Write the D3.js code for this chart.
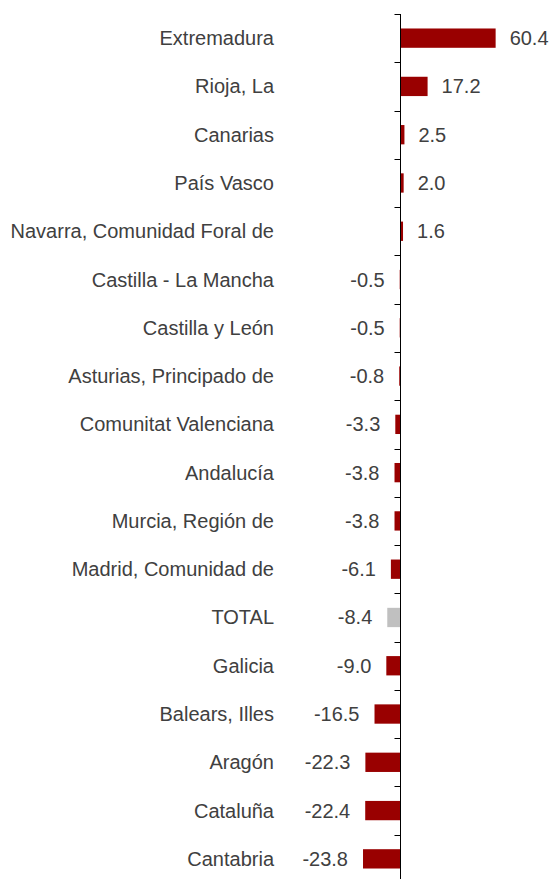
<!DOCTYPE html>
<html>
<head>
<meta charset="utf-8">
<script src="https://cdn.jsdelivr.net/npm/d3@7"></script>
<style>
  html, body { margin: 0; padding: 0; background: #fff; }
  svg { display: block; }
  text { font-family: "Liberation Sans", Arial, sans-serif; fill: #404040; }
</style>
</head>
<body>
<div id="chart"></div>
<script>
// Variación por comunidad autónoma (%)
const regions = [
  "Extremadura", "Rioja, La", "Canarias", "País Vasco",
  "Navarra, Comunidad Foral de", "Castilla - La Mancha", "Castilla y León",
  "Asturias, Principado de", "Comunitat Valenciana", "Andalucía",
  "Murcia, Región de", "Madrid, Comunidad de", "TOTAL", "Galicia",
  "Balears, Illes", "Aragón", "Cataluña", "Cantabria"
];
const values = [
  60.4, 17.2, 2.5, 2.0, 1.6, -0.5, -0.5, -0.8, -3.3, -3.8,
  -3.8, -6.1, -8.4, -9.0, -16.5, -22.3, -22.4, -23.8
];
const highlight = ["TOTAL"];

const width = 551, height = 879;
const zeroX = 400.5;
const pxPerUnit = 1.575;

const svg = d3.select("#chart").append("svg")
  .attr("width", width).attr("height", height);

const x = d3.scaleLinear()
  .domain([-25, 65])
  .range([zeroX - 25 * pxPerUnit, zeroX + 65 * pxPerUnit]);

const y = d3.scaleBand()
  .domain(regions)
  .range([14, 883])
  .paddingInner(0.6)
  .paddingOuter(0.3);

const data = regions.map((r, i) => ({ region: r, value: values[i] }));

// bars
svg.append("g").selectAll("rect")
  .data(data)
  .join("rect")
  .attr("x", d => x(Math.min(0, d.value)))
  .attr("y", d => y(d.region))
  .attr("width", d => Math.abs(x(d.value) - x(0)))
  .attr("height", y.bandwidth())
  .attr("fill", d => highlight.includes(d.region) ? "#c0c0c0" : "#990000");

// category axis through zero
const axisG = svg.append("g").attr("transform", `translate(${x(0)},0)`);
axisG.append("line")
  .attr("y1", 14).attr("y2", 883)
  .attr("stroke", "#000").attr("stroke-width", 1);
const tickYs = d3.range(regions.length + 1).map(i => 14 + i * (869 / regions.length));
axisG.selectAll("line.tick")
  .data(tickYs)
  .join("line")
  .attr("class", "tick")
  .attr("x1", -6).attr("x2", 0)
  .attr("y1", d => Math.round(d) + 0.5).attr("y2", d => Math.round(d) + 0.5)
  .attr("stroke", "#000").attr("stroke-width", 1);

// category labels
svg.append("g").selectAll("text")
  .data(data)
  .join("text")
  .attr("x", 274)
  .attr("y", d => y(d.region) + y.bandwidth() / 2)
  .attr("dy", "0.35em")
  .attr("text-anchor", "end")
  .attr("font-size", 20)
  .text(d => d.region);

// value labels (plain hyphen for negatives)
const fmt = d3.formatLocale({ decimal: ".", thousands: ",", grouping: [3], currency: ["", ""], minus: "-" }).format(".1f");
svg.append("g").selectAll("text")
  .data(data)
  .join("text")
  .attr("x", d => d.value >= 0 ? x(d.value) + 14 : x(d.value) - 15)
  .attr("y", d => y(d.region) + y.bandwidth() / 2)
  .attr("dy", "0.35em")
  .attr("text-anchor", d => d.value >= 0 ? "start" : "end")
  .attr("font-size", 20)
  .text(d => fmt(d.value));
</script>
</body>
</html>
